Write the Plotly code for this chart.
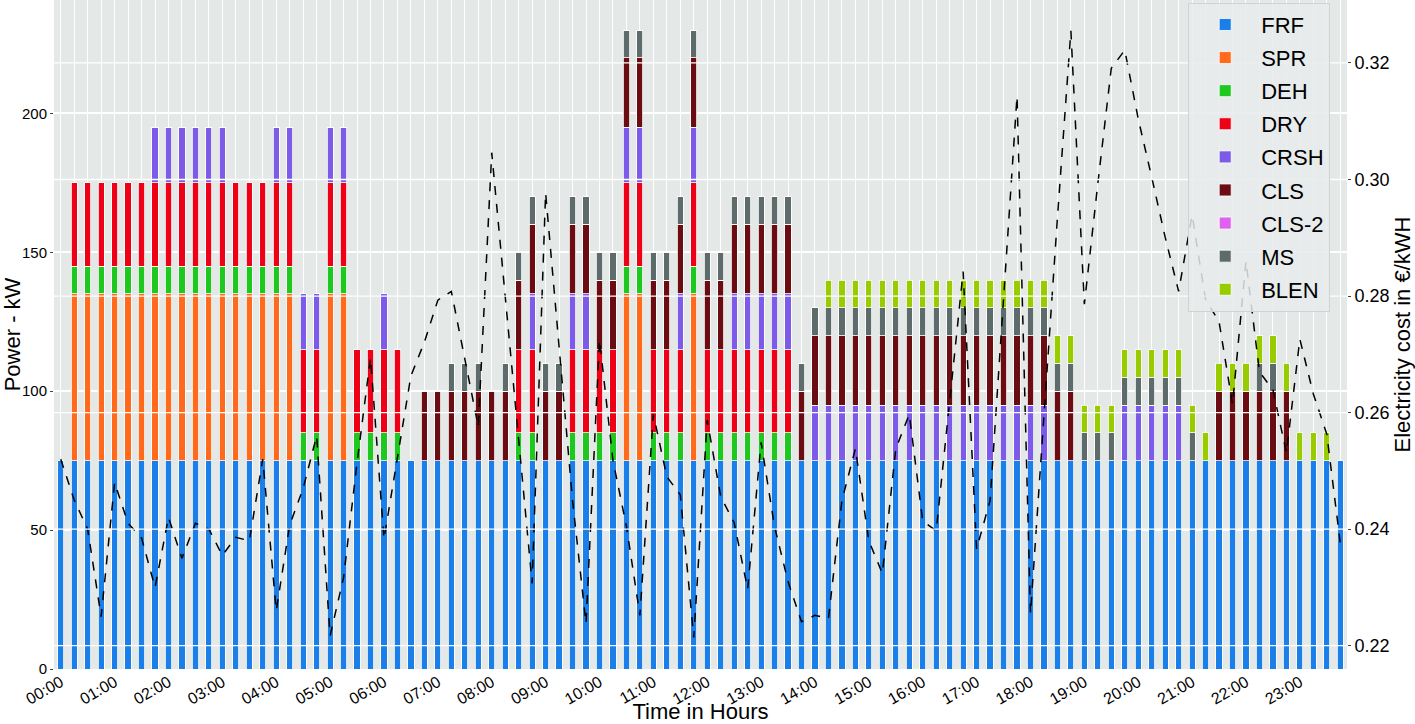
import plotly.graph_objects as go

# ---------------- data (96 quarter-hour slots) ----------------
slots = list(range(96))
hour_ticks = list(range(0, 96, 4))
hour_labels = ["00:00", "01:00", "02:00", "03:00", "04:00", "05:00", "06:00", "07:00",
               "08:00", "09:00", "10:00", "11:00", "12:00", "13:00", "14:00", "15:00",
               "16:00", "17:00", "18:00", "19:00", "20:00", "21:00", "22:00", "23:00"]

FRF = [75, 75, 75, 75, 75, 75, 75, 75, 75, 75, 75, 75, 75, 75, 75, 75,
       75, 75, 75, 75, 75, 75, 75, 75, 75, 75, 75, 75, 75, 75, 75, 75,
       75, 75, 75, 75, 75, 75, 75, 75, 75, 75, 75, 75, 75, 75, 75, 75,
       75, 75, 75, 75, 75, 75, 75, 75, 75, 75, 75, 75, 75, 75, 75, 75,
       75, 75, 75, 75, 75, 75, 75, 75, 75, 75, 75, 75, 75, 75, 75, 75,
       75, 75, 75, 75, 75, 75, 75, 75, 75, 75, 75, 75, 75, 75, 75, 75]
SPR = [0, 60, 60, 60, 60, 60, 60, 60, 60, 60, 60, 60, 60, 60, 60, 60,
       60, 60, 0, 0, 60, 60, 0, 0, 0, 0, 0, 0, 0, 0, 0, 0,
       0, 0, 0, 0, 0, 0, 0, 0, 0, 0, 60, 60, 0, 0, 0, 60,
       0, 0, 0, 0, 0, 0, 0, 0, 0, 0, 0, 0, 0, 0, 0, 0,
       0, 0, 0, 0, 0, 0, 0, 0, 0, 0, 0, 0, 0, 0, 0, 0,
       0, 0, 0, 0, 0, 0, 0, 0, 0, 0, 0, 0, 0, 0, 0, 0]
DEH = [0, 10, 10, 10, 10, 10, 10, 10, 10, 10, 10, 10, 10, 10, 10, 10,
       10, 10, 10, 10, 10, 10, 10, 10, 10, 10, 0, 0, 0, 0, 0, 0,
       0, 0, 10, 10, 0, 0, 10, 10, 10, 10, 10, 10, 10, 10, 10, 10,
       10, 10, 10, 10, 10, 10, 10, 0, 0, 0, 0, 0, 0, 0, 0, 0,
       0, 0, 0, 0, 0, 0, 0, 0, 0, 0, 0, 0, 0, 0, 0, 0,
       0, 0, 0, 0, 0, 0, 0, 0, 0, 0, 0, 0, 0, 0, 0, 0]
DRY = [0, 30, 30, 30, 30, 30, 30, 30, 30, 30, 30, 30, 30, 30, 30, 30,
       30, 30, 30, 30, 30, 30, 30, 30, 30, 30, 0, 0, 0, 0, 0, 0,
       0, 0, 30, 30, 0, 0, 30, 30, 30, 30, 30, 30, 30, 30, 30, 30,
       30, 30, 30, 30, 30, 30, 30, 0, 0, 0, 0, 0, 0, 0, 0, 0,
       0, 0, 0, 0, 0, 0, 0, 0, 0, 0, 0, 0, 0, 0, 0, 0,
       0, 0, 0, 0, 0, 0, 0, 0, 0, 0, 0, 0, 0, 0, 0, 0]
CRSH = [0, 0, 0, 0, 0, 0, 0, 20, 20, 20, 20, 20, 20, 0, 0, 0,
        20, 20, 20, 20, 20, 20, 0, 0, 20, 0, 0, 0, 0, 0, 0, 0,
        0, 0, 0, 20, 0, 0, 20, 20, 0, 0, 20, 20, 0, 0, 20, 20,
        0, 0, 20, 20, 20, 20, 20, 0, 20, 20, 20, 20, 20, 20, 20, 20,
        20, 20, 20, 20, 20, 20, 20, 20, 20, 20, 0, 0, 0, 0, 0, 20,
        20, 20, 20, 20, 0, 0, 0, 0, 0, 0, 0, 0, 0, 0, 0, 0]
CLS = [0, 0, 0, 0, 0, 0, 0, 0, 0, 0, 0, 0, 0, 0, 0, 0,
       0, 0, 0, 0, 0, 0, 0, 0, 0, 0, 0, 25, 25, 25, 25, 25,
       25, 25, 25, 25, 25, 25, 25, 25, 25, 25, 25, 25, 25, 25, 25, 25,
       25, 25, 25, 25, 25, 25, 25, 25, 25, 25, 25, 25, 25, 25, 25, 25,
       25, 25, 25, 25, 25, 25, 25, 25, 25, 25, 25, 25, 0, 0, 0, 0,
       0, 0, 0, 0, 0, 0, 25, 25, 25, 25, 25, 25, 0, 0, 0, 0]
CLS_2 = [0, 0, 0, 0, 0, 0, 0, 0, 0, 0, 0, 0, 0, 0, 0, 0,
         0, 0, 0, 0, 0, 0, 0, 0, 0, 0, 0, 0, 0, 0, 0, 0,
         0, 0, 0, 0, 0, 0, 0, 0, 0, 0, 0, 0, 0, 0, 0, 0,
         0, 0, 0, 0, 0, 0, 0, 0, 0, 0, 0, 0, 0, 0, 0, 0,
         0, 0, 0, 0, 0, 0, 0, 0, 0, 0, 0, 0, 0, 0, 0, 0,
         0, 0, 0, 0, 0, 0, 0, 0, 0, 0, 0, 0, 0, 0, 0, 0]
MS = [0, 0, 0, 0, 0, 0, 0, 0, 0, 0, 0, 0, 0, 0, 0, 0,
      0, 0, 0, 0, 0, 0, 0, 0, 0, 0, 0, 0, 0, 10, 10, 10,
      0, 10, 10, 10, 10, 10, 10, 10, 10, 10, 10, 10, 10, 10, 10, 10,
      10, 10, 10, 10, 10, 10, 10, 10, 10, 10, 10, 10, 10, 10, 10, 10,
      10, 10, 10, 10, 10, 10, 10, 10, 10, 10, 10, 10, 10, 10, 10, 10,
      10, 10, 10, 10, 10, 0, 0, 0, 0, 10, 10, 0, 0, 0, 0, 0]
BLEN = [0, 0, 0, 0, 0, 0, 0, 0, 0, 0, 0, 0, 0, 0, 0, 0,
        0, 0, 0, 0, 0, 0, 0, 0, 0, 0, 0, 0, 0, 0, 0, 0,
        0, 0, 0, 0, 0, 0, 0, 0, 0, 0, 0, 0, 0, 0, 0, 0,
        0, 0, 0, 0, 0, 0, 0, 0, 0, 10, 10, 10, 10, 10, 10, 10,
        10, 10, 10, 10, 10, 10, 10, 10, 10, 10, 10, 10, 10, 10, 10, 10,
        10, 10, 10, 10, 10, 10, 10, 10, 10, 10, 10, 10, 10, 10, 10, 0]

price = [0.2520, 0.2450, 0.2400, 0.2250, 0.2480, 0.2410, 0.2385, 0.2300,
         0.2420, 0.2350, 0.2410, 0.2400, 0.2355, 0.2386, 0.2380, 0.2520,
         0.2260, 0.2407, 0.2470, 0.2560, 0.2217, 0.2317, 0.2514, 0.2694,
         0.2383, 0.2520, 0.2663, 0.2721, 0.2793, 0.2808, 0.2694, 0.2576,
         0.3046, 0.2799, 0.2554, 0.2307, 0.2977, 0.2713, 0.2449, 0.2238,
         0.2725, 0.2518, 0.2405, 0.2252, 0.2597, 0.2490, 0.2459, 0.2214,
         0.2587, 0.2456, 0.2411, 0.2297, 0.2549, 0.2404, 0.2310, 0.2241,
         0.2252, 0.2247, 0.2449, 0.2538, 0.2380, 0.2324, 0.2538, 0.2597,
         0.2414, 0.2397, 0.2621, 0.2842, 0.2366, 0.2449, 0.2795, 0.3143,
         0.2255, 0.2601, 0.2934, 0.3255, 0.2786, 0.2993, 0.3191, 0.3222,
         0.3104, 0.3004, 0.2901, 0.2808, 0.2939, 0.2794, 0.2756, 0.2614,
         0.2860, 0.2670, 0.2639, 0.2531, 0.2726, 0.2632, 0.2563, 0.2376]

series_names = ["FRF", "SPR", "DEH", "DRY", "CRSH", "CLS", "CLS-2", "MS", "BLEN"]
series_values = [FRF, SPR, DEH, DRY, CRSH, CLS, CLS_2, MS, BLEN]
series_colors = ["#1A7FE8", "#FF6A1C", "#1EC81E", "#EE0016", "#7B5BE8",
                 "#6B0C12", "#E060F0", "#5E6B6B", "#99CC00"]

left_ticks = [0, 50, 100, 150, 200]
right_ticks = [0.22, 0.24, 0.26, 0.28, 0.30, 0.32]

FONT = "Liberation Sans, Arial, sans-serif"
BG = "#E4E8E7"

fig = go.Figure()
for name, vals, col in zip(series_names, series_values, series_colors):
    fig.add_trace(go.Bar(
        x=slots, y=vals, name=name, width=0.46, legendgroup=name,
        marker=dict(color=col, line=dict(color="white", width=0.8)),
    ))

fig.add_trace(go.Scatter(
    x=slots, y=price, yaxis="y2", mode="lines", showlegend=False,
    line=dict(color="black", width=1.5, dash="dash"),
))

# right-axis grid lines are drawn over the bars in the original
shapes = [dict(type="line", xref="paper", x0=0, x1=1, yref="y2", y0=v, y1=v,
               line=dict(color="white", width=1.3), layer="above")
          for v in right_ticks]

fig.update_layout(
    width=1415, height=724,
    barmode="stack",
    paper_bgcolor="white", plot_bgcolor=BG,
    font=dict(family=FONT, color="black"),
    margin=dict(l=54, r=68, t=0, b=55),
    shapes=shapes,
    xaxis=dict(
        range=[-0.5, 95.5], tickmode="array", tickvals=hour_ticks, ticktext=hour_labels,
        tickangle=-30, tickfont=dict(size=16),
        showgrid=True, gridcolor="white", gridwidth=1, zeroline=False,
        minor=dict(tickmode="linear", tick0=0, dtick=1, showgrid=True,
                   gridcolor="white", gridwidth=1),
        title=dict(text="Time in Hours", font=dict(size=22), standoff=4),
        automargin=False,
    ),
    yaxis=dict(
        range=[0, 240.8], tickvals=left_ticks, tickfont=dict(size=15),
        ticks="outside", ticklen=3, tickcolor="#444",
        showgrid=True, gridcolor="white", gridwidth=1.5, zeroline=False,
        title=dict(text="Power - kW", font=dict(size=22), standoff=8),
        automargin=False,
    ),
    yaxis2=dict(
        overlaying="y", side="right", range=[0.2160, 0.3308],
        tickvals=right_ticks, ticktext=["%.2f" % v for v in right_ticks],
        tickfont=dict(size=18), ticks="outside", ticklen=3, tickcolor="#444",
        showgrid=False, zeroline=False,
        title=dict(text="Electricity cost in €/kWH", font=dict(size=22), standoff=4),
        automargin=False,
    ),
    legend=dict(
        x=0.987, y=0.996, xanchor="right", yanchor="top",
        bgcolor="rgba(232,235,235,0.85)", bordercolor="#CFD3D3", borderwidth=1,
        font=dict(size=22), itemwidth=62, tracegroupgap=1.5,
        traceorder="grouped",
    ),
)

fig.write_html(
    "out.html",
    config={"displayModeBar": False},
    post_script="document.body.style.margin='0px';document.body.style.padding='0px';",
)
